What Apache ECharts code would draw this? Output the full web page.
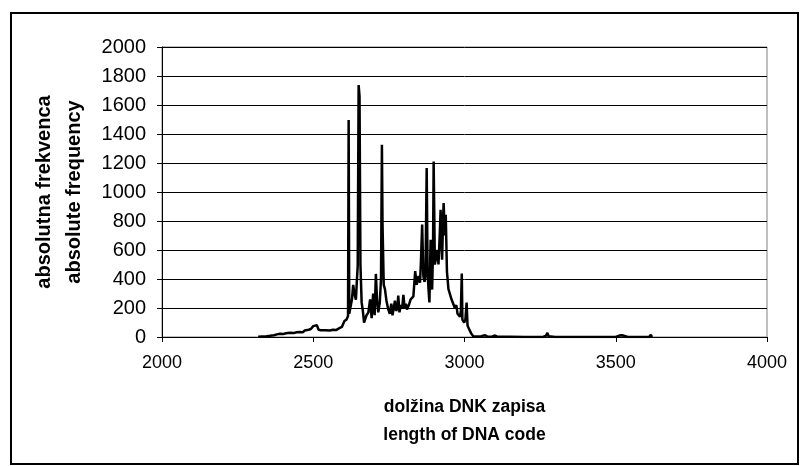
<!DOCTYPE html>
<html>
    <head>
        <meta charset="utf-8">
        <script src="https://cdn.jsdelivr.net/npm/echarts@6/dist/echarts.min.js"></script>
    </head>
    <body>
        <style>
            html, body, #main {
                margin: 0;
                width: 800px;
                height: 466px;
                background: #fff;
            }
        </style>

        <div id="main"></div>

        <script>
            // DNA record length vs. absolute frequency
            const lengths = [
                2318, 2330, 2345, 2357, 2370, 2380, 2390, 2400, 2410, 2423, 2435, 2445, 2456, 2465, 2472, 2478,
                2485, 2492, 2500, 2506, 2512, 2517, 2525, 2540, 2555, 2565, 2575, 2588, 2595, 2603, 2610, 2615,
                2617, 2619, 2623, 2628, 2632, 2636, 2641, 2645, 2647, 2650, 2653, 2656, 2660, 2664, 2668, 2671,
                2676, 2682, 2688, 2693, 2698, 2703, 2707, 2711, 2715, 2720, 2724, 2727, 2729, 2733, 2737, 2742,
                2748, 2753, 2758, 2762, 2766, 2770, 2774, 2778, 2781, 2785, 2790, 2794, 2798, 2802, 2806, 2810,
                2816, 2822, 2827, 2831, 2837, 2842, 2848, 2853, 2856, 2860, 2864, 2868, 2871, 2875, 2878, 2881,
                2884, 2888, 2891, 2893, 2896, 2898, 2902, 2906, 2910, 2914, 2918, 2921, 2924, 2926, 2929, 2931,
                2935, 2938, 2942, 2947, 2952, 2957, 2963, 2968, 2973, 2977, 2980, 2985, 2988, 2991, 2993, 2996,
                2999, 3003, 3007, 3010, 3014, 3018, 3022, 3026, 3029, 3035, 3045, 3055, 3068, 3075, 3090, 3101,
                3108, 3150, 3200, 3260, 3270, 3274, 3278, 3300, 3400, 3500, 3512, 3520, 3528, 3540, 3610, 3616,
                3620
            ];
            const frequencies = [
                2, 4, 6, 8, 12, 18, 22, 20, 26, 29, 27, 33, 35, 32, 45, 40,
                50, 55, 75, 88, 82, 52, 46, 47, 45, 50, 48, 63, 70, 110, 120, 145,
                1497, 160, 170, 260, 360, 300, 258, 420, 490, 1738, 1660, 500, 237, 180, 100, 90,
                150, 168, 260, 130, 300, 150, 435, 250, 170, 240, 400, 1325, 780, 360, 330, 250,
                190, 160, 230, 150, 140, 250, 180, 200, 285, 170, 220, 200, 290, 200, 230, 190,
                220, 260, 250, 280, 455, 360, 420, 375, 520, 775, 420, 380, 420, 1165, 450, 330,
                238, 670, 400, 327, 600, 1210, 500, 487, 600, 500, 700, 877, 640, 533, 800, 924,
                700, 843, 450, 330, 327, 260, 258, 200, 220, 160, 168, 140, 180, 437, 120, 110,
                100, 120, 237, 80, 60, 52, 25, 12, 5, 8, 3, 6, 12, 4, 2, 10,
                2, 1, 0, 0, 10, 29, 5, 0, 0, 0, 10, 12, 8, 0, 0, 15,
                0
            ];

            const xTitle = 'dolžina DNK zapisa\nlength of DNA code';
            const yTitle = 'absolutna frekvenca\nabsolute frequency';

            var chart = echarts.init(document.querySelector('#main'));
            const font = 'Liberation Sans, Arial, sans-serif';

            var option = {
                animation: false,
                grid: {
                    left: 162, top: 47, width: 605, height: 290,
                    show: true, borderColor: '#808080', borderWidth: 1
                },
                xAxis: {
                    type: 'value', min: 2000, max: 4000, interval: 500,
                    name: xTitle, nameLocation: 'middle', nameGap: 56,
                    nameTextStyle: {fontFamily: font, fontSize: 17.5, fontWeight: 'bold', color: '#000', lineHeight: 28},
                    axisLine: {show: true, lineStyle: {color: '#000', width: 1}},
                    axisTick: {show: true, length: 5, lineStyle: {color: '#000'}},
                    axisLabel: {fontFamily: font, fontSize: 18, color: '#000', margin: 17, formatter: v => String(v)},
                    splitLine: {show: false}
                },
                yAxis: {
                    type: 'value', min: 0, max: 2000, interval: 200,
                    name: yTitle, nameLocation: 'middle', nameGap: 73,
                    nameTextStyle: {fontFamily: font, fontSize: 20, fontWeight: 'bold', color: '#000', lineHeight: 30},
                    axisLine: {show: true, lineStyle: {color: '#000', width: 1}},
                    axisTick: {show: true, length: 5, lineStyle: {color: '#000'}},
                    axisLabel: {fontFamily: font, fontSize: 20, color: '#000', margin: 16, formatter: v => String(v)},
                    splitLine: {show: true, lineStyle: {color: '#000', width: 1}}
                },
                series: [{
                    type: 'line',
                    data: lengths.map((x, i) => [x, frequencies[i]]),
                    showSymbol: false,
                    lineStyle: {color: '#000', width: 2.5},
                    z: 5
                }],
                graphic: [{
                    type: 'rect',
                    shape: {x: 11, y: 13, width: 787, height: 451},
                    style: {fill: 'none', stroke: '#000', lineWidth: 2},
                    silent: true
                }]
            };

            chart.setOption(option);
        </script>
    </body>
</html>
